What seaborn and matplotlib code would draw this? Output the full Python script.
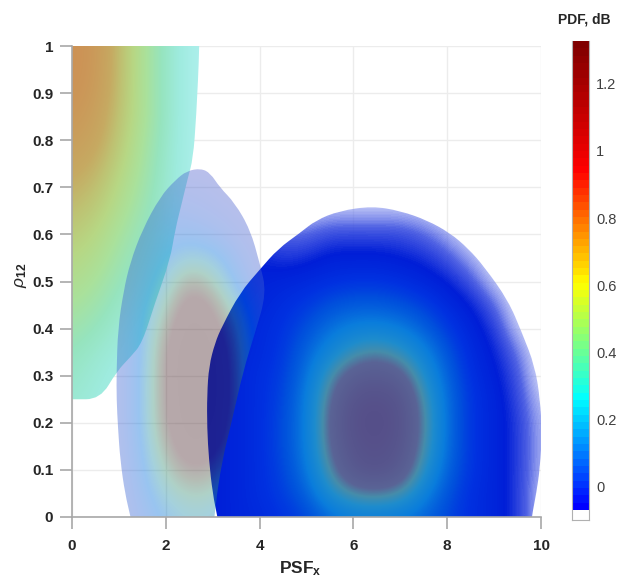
import matplotlib
matplotlib.use('Agg')
import matplotlib.pyplot as plt
import numpy as np
import seaborn as sns
from matplotlib.colors import LinearSegmentedColormap
from matplotlib.path import Path
from matplotlib.transforms import Affine2D

# PDF values, rows go from low rho to high rho
left_x0, left_rho0 = 0.0, 0.2
left_pdf = [
    [.22, .18, .14, .12, .10, .09, .08],
    [.24, .20, .16, .13, .11, .09, .08],
    [.27, .22, .17, .14, .11, .09, .08],
    [.30, .25, .20, .16, .12, .10, .08],
    [.35, .30, .23, .18, .14, .10, .08],
    [.40, .35, .27, .21, .16, .11, .08],
    [.45, .40, .31, .24, .18, .12, .08],
    [.50, .45, .35, .27, .20, .12, .08],
    [.56, .50, .39, .30, .21, .13, .08],
    [.62, .56, .44, .33, .23, .13, .08],
    [.68, .62, .48, .36, .24, .14, .08],
    [.74, .68, .53, .38, .25, .14, .08],
    [.80, .74, .57, .40, .26, .14, .08],
    [.85, .78, .60, .42, .27, .14, .08],
    [.88, .82, .62, .42, .27, .14, .08],
    [.90, .84, .63, .42, .27, .14, .08],
    [.90, .85, .63, .42, .27, .14, .08],
]
left_outline = [(-1, .25), (0, .25), (.6, .25), (.96, .31), (1.25, .34), (1.5, .37), (1.77, .455), (2.09, .545),
                (2.2, .61), (2.35, .67), (2.47, .72), (2.58, .76), (2.65, .85), (2.72, 1), (2.75, 1.2),
                (-1, 1.2)]

mid_x0, mid_rho0 = 1.0, 0.0
mid_pdf = [
    [.03, .10, .22, .30, .28, .15, .05, 0],
    [.03, .13, .32, .42, .40, .22, .05, 0],
    [.03, .16, .42, .60, .55, .32, .06, 0],
    [.03, .18, .52, .74, .68, .45, .07, 0],
    [.03, .20, .60, .80, .75, .52, .08, 0],
    [.03, .20, .62, .82, .78, .55, .08, 0],
    [.03, .20, .62, .85, .78, .55, .08, 0],
    [.03, .19, .60, .85, .75, .52, .08, 0],
    [.03, .18, .52, .80, .68, .45, .07, 0],
    [.03, .15, .40, .72, .60, .30, .06, 0],
    [.03, .12, .28, .55, .42, .16, .04, 0],
    [.03, .10, .20, .30, .25, .10, .03, 0],
    [.02, .08, .14, .15, .10, .05, .02, 0],
    [.02, .06, .09, .07, .05, .03, .01, 0],
    [0, .04, .05, .04, .03, 0, 0, 0],
    [0, 0, 0, 0, 0, 0, 0, 0],
]
mid_outline = [(1.35, -.05), (1.25, 0), (1.13, .05), (1.03, .12), (.98, .19), (.95, .25), (.95, .31), (.98, .40),
               (1.1, .48), (1.24, .54), (1.5, .61), (1.88, .68), (2.2, .715), (2.45, .735), (2.75, .74),
               (2.95, .73), (3.15, .70), (3.47, .667), (3.8, .61), (4.0, .54), (4.15, .476), (3.9, .39),
               (3.65, .31), (3.4, .2), (3.2, .12), (3.05, .02), (3.0, -.05)]

right_x0, right_rho0 = 2.5, 0.0
right_pdf = [
    [0, 0, .02, .03, .05, .08, .15, .20, .20, .18, .14, .08, .04, .02, -.02, -.10],
    [0, 0, .02, .04, .07, .13, .30, .40, .42, .38, .22, .10, .04, .02, -.02, -.10],
    [0, 0, .02, .04, .08, .18, .40, .58, .62, .55, .32, .13, .05, .02, -.02, -.09],
    [0, 0, .02, .04, .09, .20, .46, .62, .65, .60, .38, .15, .05, .02, -.02, -.09],
    [0, 0, .02, .04, .09, .20, .48, .65, .68, .62, .40, .15, .05, .02, -.02, -.09],
    [0, 0, .02, .04, .08, .20, .45, .62, .65, .60, .37, .15, .05, .02, -.03, -.10],
    [0, 0, .02, .04, .07, .17, .38, .52, .55, .50, .30, .13, .04, .01, -.04, -.12],
    [0, 0, .02, .03, .06, .14, .25, .36, .40, .34, .22, .10, .03, 0, -.06, -.12],
    [0, 0, .01, .03, .05, .10, .17, .22, .23, .20, .13, .06, .02, -.02, -.10, -.12],
    [0, 0, .01, .02, .04, .06, .10, .12, .12, .10, .07, .03, 0, -.05, -.12, -.12],
    [0, 0, 0, .01, .02, .03, .04, .05, .05, .04, .02, 0, -.04, -.10, -.12, -.12],
    [0, 0, 0, 0, -.02, -.01, .01, .01, .01, 0, -.01, -.04, -.08, -.12, -.12, -.12],
    [0, 0, 0, -.03, -.05, -.05, -.03, -.03, -.03, -.03, -.05, -.08, -.12, -.12, -.12, -.12],
    [-.12, -.12, -.12, -.12, -.12, -.10, -.09, -.09, -.09, -.09, -.10, -.12, -.12, -.12, -.12, -.12],
    [-.12, -.12, -.12, -.12, -.12, -.12, -.12, -.12, -.12, -.12, -.12, -.12, -.12, -.12, -.12, -.12],
]
right_outline = [(3.2, -.05), (3.1, .0), (3.0, .05), (2.92, .12), (2.88, .19), (2.88, .26), (2.92, .32), (3.05, .37),
                 (3.2, .405), (3.58, .476), (4.0, .525), (4.4, .57), (4.86, .603), (5.2, .63), (5.7, .65),
                 (6.4, .66), (7.0, .65), (7.57, .63), (8.06, .603), (8.45, .57), (8.8, .53), (9.3, .46), (9.6, .39),
                 (9.87, .32), (9.98, .25), (10.02, .18), (9.98, .106), (9.9, .05), (9.8, 0), (9.75, -.05)]

x_ticks = [0, 2, 4, 6, 8, 10]
rho_ticks = [0, .1, .2, .3, .4, .5, .6, .7, .8, .9, 1]
rho_labels = ['0', '0.1', '0.2', '0.3', '0.4', '0.5', '0.6', '0.7', '0.8', '0.9', '1']
cbar_ticks = [0, .2, .4, .6, .8, 1, 1.2]
cbar_labels = ['0', '0.2', '0.4', '0.6', '0.8', '1', '1.2']
cbar_low, cbar_high, cbar_floor = -0.07, 1.306, -0.10
X_STEP, RHO_STEP = 0.5, 0.05


def rgba(r, g, b, a=1.0):
    return (r / 255, g / 255, b / 255, a)


def layer_cmap(stops):
    # stops are (pdf level, colour), the washed out look is in the colours
    lo, hi = stops[0][0], stops[-1][0]
    return LinearSegmentedColormap.from_list(
        'layer', [((v - lo) / (hi - lo), c) for v, c in stops]), lo, hi


def round_outline(points):
    # closed quadratic spline through the mid points, so the outline has no corners
    pts = np.array(points)
    mids = (pts + np.roll(pts, -1, axis=0)) / 2
    verts = [mids[-1]]
    codes = [Path.MOVETO]
    for p, m in zip(pts, mids):
        verts += [p, m]
        codes += [Path.CURVE3, Path.CURVE3]
    return Path(verts, codes)


def draw_layer(ax, values, x0, rho0, stops, outline):
    cmap, lo, hi = layer_cmap(stops)
    rows, cols = np.array(values).shape
    im = ax.imshow(values, origin='lower', aspect='auto', cmap=cmap, vmin=lo, vmax=hi, zorder=1,
                   interpolation='bicubic', interpolation_stage='data',
                   extent=[x0 - X_STEP / 2, x0 + (cols - .5) * X_STEP,
                           rho0 - RHO_STEP / 2, rho0 + (rows - .5) * RHO_STEP])
    im.set_clip_path(round_outline(outline), ax.transData)


left_stops = [(.05, rgba(185, 243, 243)), (.1, rgba(175, 240, 238)), (.2, rgba(158, 235, 222)),
              (.3, rgba(150, 228, 190)), (.4, rgba(170, 225, 155)), (.5, rgba(183, 215, 132)),
              (.6, rgba(190, 195, 115)), (.7, rgba(198, 170, 98)), (.9, rgba(205, 145, 85))]
mid_stops = [(0, rgba(85, 95, 205, .4)), (.1, rgba(40, 100, 215, .4)), (.2, rgba(0, 110, 220, .4)),
             (.3, rgba(30, 140, 170, .4)), (.4, rgba(55, 142, 117, .4)), (.5, rgba(70, 90, 70, .4)),
             (.6, rgba(75, 40, 45, .4)), (.9, rgba(70, 35, 40, .4))]
right_stops = [(-.12, rgba(170, 180, 245, .35)), (-.05, rgba(60, 80, 225, .9)), (0, rgba(0, 30, 215)),
               (.05, rgba(0, 50, 225)), (.1, rgba(0, 80, 220)), (.2, rgba(10, 125, 220)),
               (.3, rgba(30, 140, 205)), (.38, rgba(70, 140, 170)), (.45, rgba(90, 100, 150)),
               (.7, rgba(85, 75, 135))]
cbar_stops = [(cbar_low, rgba(0, 0, 255)), (.25, rgba(0, 255, 255)), (.42, rgba(128, 255, 128)),
              (.59, rgba(255, 255, 0)), (.75, rgba(255, 140, 0)), (.93, rgba(255, 0, 0)),
              (cbar_high, rgba(128, 0, 0))]

W, H = 627, 579
sns.set_style('white')
plt.rcParams['font.family'] = ['Liberation Sans', 'DejaVu Sans']
plt.rcParams['mathtext.fontset'] = 'custom'
plt.rcParams['mathtext.rm'] = 'Liberation Sans:bold'
plt.rcParams['mathtext.it'] = 'Liberation Sans:italic'
plt.rcParams['mathtext.bf'] = 'Liberation Sans:bold'

fig = plt.figure(figsize=(W / 100, H / 100), dpi=100)
ax = fig.add_axes([72 / W, (H - 517) / H, 469 / W, 471 / H])

# right blob goes under the middle one, that gives the dark overlap
draw_layer(ax, left_pdf, left_x0, left_rho0, left_stops, left_outline)
draw_layer(ax, right_pdf, right_x0, right_rho0, right_stops, right_outline)
draw_layer(ax, mid_pdf, mid_x0, mid_rho0, mid_stops, mid_outline)

ax.set_xlim(0, 10)
ax.set_ylim(0, 1)
ax.set_xticks(x_ticks)
ax.set_xticklabels([str(t) for t in x_ticks], fontweight='bold', fontsize=11, color='#262626')
ax.set_yticks(rho_ticks)
ax.set_yticklabels(rho_labels, fontweight='bold', fontsize=11, color='#262626')
ax.tick_params(left=True, bottom=True, length=8.5, width=1.1, color='#a0a0a0')
ax.tick_params(axis='x', pad=7)
ax.tick_params(axis='y', pad=5)
ax.grid(True, color='#ececec', linewidth=1)
ax.set_axisbelow(True)
for side in ['top', 'right']:
    ax.spines[side].set_visible(False)
for side in ['left', 'bottom']:
    ax.spines[side].set_visible(True)
    ax.spines[side].set_color('#a8a8a8')
    ax.spines[side].set_linewidth(1.2)

fig.text(300 / W, (H - 569) / H, r'PSF$_{\mathbf{x}}$', ha='center', va='center',
         fontweight='bold', fontsize=12.5, color='#262626')
fig.text(21 / W, (H - 275) / H, r'$\mathit{\rho}_{\mathbf{12}}$', rotation=90, ha='center', va='center',
         fontsize=12.5, color='#262626')

# colour bar with the white box under the lowest level
cax = fig.add_axes([572 / W, (H - 520) / H, 17 / W, 479 / H])
cbar_cmap, cbar_vmin, cbar_vmax = layer_cmap(cbar_stops)
cbar_levels = np.linspace(cbar_low, cbar_high, 64)
cbar_step = cbar_levels[1] - cbar_levels[0]
to_cbar = Affine2D().scale(1, cbar_step).translate(0, cbar_low) + cax.transData
sns.heatmap(cbar_levels.reshape(-1, 1), ax=cax, cmap=cbar_cmap, vmin=cbar_vmin, vmax=cbar_vmax,
            cbar=False, xticklabels=False, yticklabels=False, transform=to_cbar)
cax.set_xlim(0, 1)
cax.set_ylim(cbar_floor, cbar_low + 64 * cbar_step)
cax.yaxis.tick_right()
cax.set_yticks(cbar_ticks)
cax.set_yticklabels(cbar_labels, fontsize=10.5, color='#404040')
cax.tick_params(axis='y', right=True, left=False, direction='in', length=2, width=.6, color='#606060', pad=5)
cax.tick_params(axis='x', bottom=False)
for side, spine in cax.spines.items():
    spine.set_visible(side != 'top')
    spine.set_color('#b0b0b0')
    spine.set_linewidth(0.8)
fig.text(584 / W, (H - 19) / H, 'PDF, dB', ha='center', va='center',
         fontweight='bold', fontsize=10, color='#262626')

fig.savefig('out.png', dpi=100)
